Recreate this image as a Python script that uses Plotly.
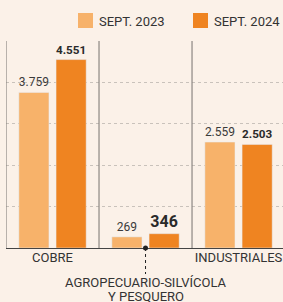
import plotly.graph_objects as go

categories = ["COBRE", "AGROPECUARIO-SILVÍCOLA", "INDUSTRIALES"]
middle_label_lines = ["AGROPECUARIO-SILVÍCOLA", "Y PESQUERO"]
tick_labels = ["COBRE", "", "INDUSTRIALES"]
sept_2023 = [3759, 269, 2559]
sept_2024 = [4551, 346, 2503]
series_names = ["SEPT. 2023", "SEPT. 2024"]

def fmt(v):
    return f"{v:,}".replace(",", ".")

FONT = "Roboto, sans-serif"
BG = "#fbf1e8"
LIGHT = "#f7b26a"
DARK = "#ef8421"
colors = [LIGHT, DARK]

W, H = 283, 302
L, R, T, B = 6, 0, 41, 54
pw, ph = W - L - R, H - T - B

def px_x(px):
    return (px - L) / pw

def px_y(py):
    return (H - B - py) / ph

x_idx = list(range(len(categories)))

fig = go.Figure()
fig.add_trace(go.Bar(
    x=x_idx, y=sept_2023, name=series_names[0], marker_color=LIGHT,
    text=[fmt(v) for v in sept_2023], textposition="outside",
    textfont=dict(size=12, color="#3a3a3a", family=FONT), cliponaxis=False,
    showlegend=False,
))
fig.add_trace(go.Bar(
    x=x_idx, y=sept_2024, name=series_names[1], marker_color=DARK,
    text=[fmt(v) for v in sept_2024], textposition="outside",
    texttemplate="<b>%{text}</b>",
    textfont=dict(size=16, color="#2a2a2a", family=FONT), cliponaxis=False,
    showlegend=False,
))

# dot marking the middle category on baseline
fig.add_trace(go.Scatter(
    x=[1], y=[0], mode="markers", marker=dict(color="#222", size=5),
    showlegend=False, cliponaxis=False, hoverinfo="skip",
))

# vertical separators
for xv in [-0.5, 0.5, 1.5]:
    fig.add_shape(type="line", x0=xv, x1=xv, y0=0, y1=1, xref="x", yref="paper",
                  line=dict(color="#8c8782", width=1.2))
# dashed leader line for middle category label
fig.add_shape(type="line", x0=1, x1=1, y0=0, y1=px_y(274), xref="x", yref="paper",
              line=dict(color="#222", width=1, dash="dot"))

# middle category label, two lines
for i, line_txt in enumerate(middle_label_lines):
    fig.add_annotation(x=1, y=px_y(282 + 14 * i), xref="x", yref="paper", text=line_txt,
                       showarrow=False, yanchor="middle", xanchor="center",
                       font=dict(size=13, color="#333", family=FONT))

# custom legend (larger squares as in the reference)
legend_sq_x = [78, 193]
for i, name in enumerate(series_names):
    x0 = legend_sq_x[i]
    fig.add_shape(type="rect", xref="paper", yref="paper",
                  x0=px_x(x0), x1=px_x(x0 + 15), y0=px_y(28), y1=px_y(13),
                  line=dict(width=0), fillcolor=colors[i])
    fig.add_annotation(x=px_x(x0 + 19), y=px_y(21), xref="paper", yref="paper",
                       text=name, showarrow=False, xanchor="left", yanchor="middle",
                       font=dict(size=13, color="#333", family=FONT))

fig.add_annotation(x=0, y=1, xref="paper", yref="paper", yshift=37,
                   text="EN MILLONES DE US$", showarrow=False,
                   xanchor="left", yanchor="bottom",
                   font=dict(size=11, color="#555", family=FONT))

fig.update_layout(
    width=W, height=H,
    margin=dict(l=L, r=R, t=T, b=B),
    paper_bgcolor=BG, plot_bgcolor=BG,
    barmode="group", bargap=0.2, bargroupgap=0.19,
    font=dict(family=FONT, color="#333"),
    showlegend=False,
    xaxis=dict(range=[-0.5, 2.478], tickvals=x_idx, ticktext=tick_labels,
               showgrid=False, zeroline=False, showline=False, ticks="",
               tickfont=dict(size=13, color="#333", family=FONT), fixedrange=True),
    yaxis=dict(range=[0, 5000], dtick=1000, showticklabels=False,
               showgrid=True, gridcolor="#c9c2bb", griddash="dot", gridwidth=1,
               zeroline=True, zerolinecolor="#444", zerolinewidth=1.2, fixedrange=True),
)

fig.write_html("out.html", config={"displayModeBar": False},
               post_script="document.body.style.margin='0';document.body.style.overflow='hidden';")
